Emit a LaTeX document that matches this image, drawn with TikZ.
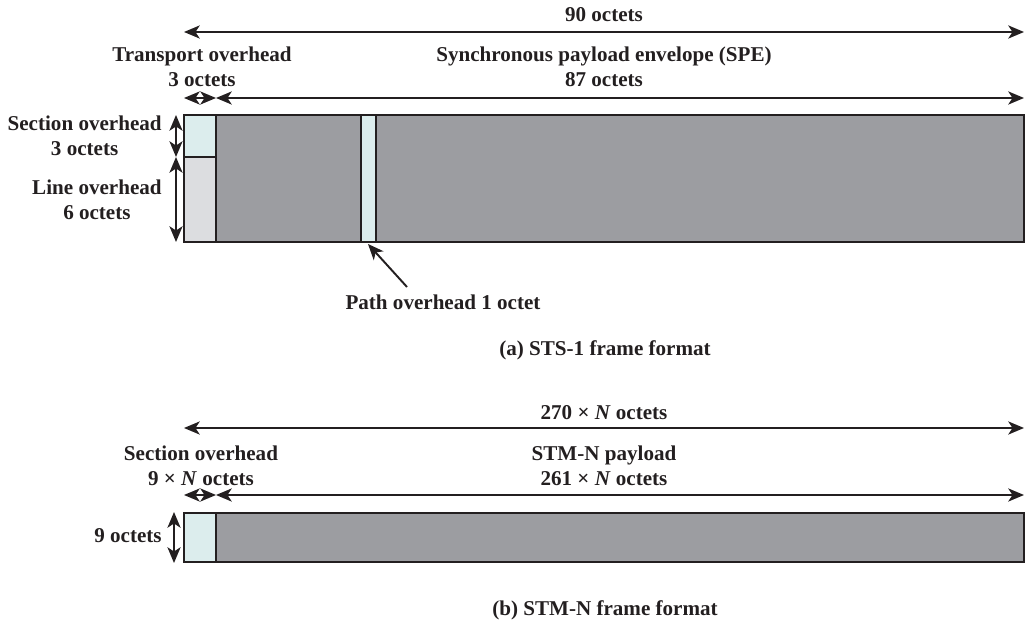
\documentclass[tikz,border=0pt]{standalone}
\usepackage{fontspec}
\setmainfont{Liberation Serif}
\definecolor{ohcyan}{RGB}{220,237,237}
\definecolor{ohgray}{RGB}{220,221,224}
\definecolor{plgray}{RGB}{156,157,161}
\definecolor{lnblack}{RGB}{35,31,32}
\usetikzlibrary{arrows.meta}

\begin{document}
\begin{tikzpicture}[x=0.02cm,y=-0.02cm,
  lbl/.style={font=\fontsize{12}{14.2}\selectfont\bfseries,align=center,inner sep=0pt,text=lnblack},
  dim/.style={{Stealth[length=9pt,width=7.5pt,inset=2.5pt]}-{Stealth[length=9pt,width=7.5pt,inset=2.5pt]},line width=1.1pt,lnblack},
  ptr/.style={-{Stealth[length=9pt,width=7.5pt,inset=2.5pt]},line width=1.1pt,lnblack},
  cell/.style={draw=lnblack,line width=1.3pt}]
  \useasboundingbox (0,0) rectangle (1030,624);
  % (a) STS-1 frame
  \filldraw[cell,fill=plgray] (184,115) rectangle (1024,242);
  \filldraw[cell,fill=ohcyan] (184,115) rectangle (216,157);
  \filldraw[cell,fill=ohgray] (184,157) rectangle (216,242);
  \filldraw[cell,fill=ohcyan] (361,115) rectangle (376,242);
  \coordinate (aL) at (184,32);   \coordinate (aR) at (1024,32);
  \coordinate (tL) at (184,98);   \coordinate (tM) at (216,98);   \coordinate (tR) at (1024,98);
  \coordinate (vT) at (176,115);  \coordinate (vM) at (176,157);  \coordinate (vB) at (176,242);
  \node[lbl] (tot) at (604,15) {90 octets};
  \node[lbl] (toh) at (202,67) {Transport overhead\\3 octets};
  \node[lbl] (spe) at (604,67) {Synchronous payload envelope (SPE)\\87 octets};
  \node[lbl,anchor=east] (soh) at (162,136) {Section overhead\\3 octets};
  \node[lbl,anchor=east] (loh) at (162,200) {Line overhead\\6 octets};
  \node[lbl] (poh) at (443,302) {Path overhead 1 octet};
  \node[lbl] (capa) at (605,350) {(a) STS-1 frame format};
  \draw[dim] (aL) -- (aR);
  \draw[dim] (tL) -- (tM); \draw[dim] (tM) -- (tR);
  \draw[dim] (vT) -- (vM); \draw[dim] (vM) -- (vB);
  \coordinate (pohtail) at (407,287); \coordinate (pohhead) at (368,244);
  \draw[ptr] (pohtail) -- (pohhead);
  % (b) STM-N frame
  \filldraw[cell,fill=plgray] (184,513) rectangle (1024,562);
  \filldraw[cell,fill=ohcyan] (184,513) rectangle (216,562);
  \coordinate (bL) at (184,428);  \coordinate (bR) at (1024,428);
  \coordinate (sL) at (184,495);  \coordinate (sM) at (216,495);  \coordinate (sR) at (1024,495);
  \coordinate (wT) at (174,512);  \coordinate (wB) at (174,563);
  \node[lbl] (btot) at (604,413) {270 × \textit{N} octets};
  \node[lbl] (bsoh) at (201,466) {Section overhead\\9 × \textit{N} octets};
  \node[lbl] (bpay) at (604,466) {STM-N payload\\261 × \textit{N} octets};
  \node[lbl,anchor=east] (brow) at (162,536) {9 octets};
  \node[lbl] (capb) at (605,610) {(b) STM-N frame format};
  \draw[dim] (bL) -- (bR);
  \draw[dim] (sL) -- (sM); \draw[dim] (sM) -- (sR);
  \draw[dim] (wT) -- (wB);
\end{tikzpicture}
\end{document}
